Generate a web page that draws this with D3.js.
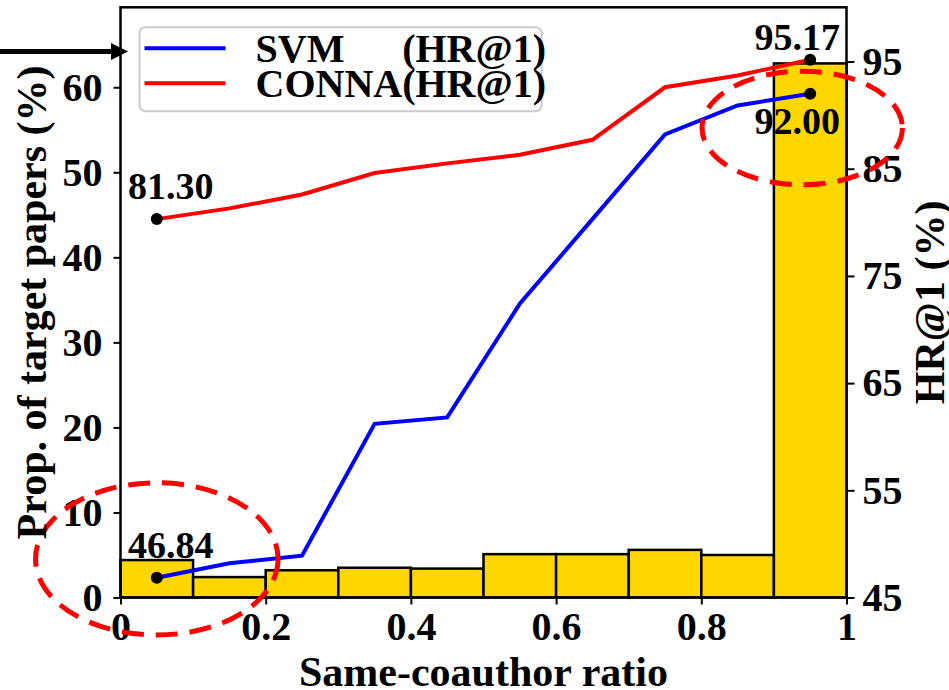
<!DOCTYPE html>
<html>
<head>
<meta charset="utf-8">
<script src="https://cdn.jsdelivr.net/npm/d3@7"></script>
<style>
  body { margin: 0; background: #fff; }
  svg { display: block; font-family: "Liberation Serif", "Times New Roman", Times, serif; font-weight: bold; }
</style>
</head>
<body>
<svg id="chart" width="949" height="690"></svg>
<script>
var FONT = '"Liberation Serif", "Times New Roman", Times, serif';

// histogram bins of the same-coauthor ratio
var binStarts = [0, 0.1, 0.2, 0.3, 0.4, 0.5, 0.6, 0.7, 0.8, 0.9];
var binWidth = 0.1;
var propPapers = [4.4, 2.4, 3.2, 3.5, 3.4, 5.1, 5.1, 5.6, 5.0, 62.8];

// HR@1 per bin (right axis)
var ratioMids = [0.05, 0.15, 0.25, 0.35, 0.45, 0.55, 0.65, 0.75, 0.85, 0.95];
var svmHr1 = [46.84, 48.2, 48.9, 61.2, 61.8, 72.4, 80.3, 88.2, 90.9, 92.00];
var connaHr1 = [80.3, 81.3, 82.6, 84.6, 85.5, 86.3, 87.7, 92.6, 93.7, 95.17];

var xTicks = [0, 0.2, 0.4, 0.6, 0.8, 1];
var leftTicks = [0, 10, 20, 30, 40, 50, 60];
var rightTicks = [45, 55, 65, 75, 85, 95];

var seriesNames = ['svm', 'conna'];
var legendNames = ['SVM', 'CONNA'];
var legendSuffix = '(HR@1)';
var seriesColors = ['#0000ff', '#ff0000'];

// highlighted endpoints: series, bin index, printed text
var pointLabels = [
  {series: 'svm', i: 0, text: '46.84'},
  {series: 'conna', i: 0, text: '81.30'},
  {series: 'svm', i: 9, text: '92.00'},
  {series: 'conna', i: 9, text: '95.17'}
];

var svg = d3.select('#chart');
var margin = {top: 7.3, left: 120.5};
var width = 726, height = 590.2;

var x = d3.scaleLinear().domain([0, 1]).range([0, width]);
var yLeft = d3.scaleLinear().domain([0, 69.4]).range([height, 0]);
var yRight = d3.scaleLinear().domain([45, 100.06]).range([height, 0]);

var seriesValues = {svm: svmHr1, conna: connaHr1};

var g = svg.append('g')
  .attr('transform', 'translate(' + margin.left + ',' + margin.top + ')');

// bars
g.selectAll('rect.bar')
  .data(propPapers)
  .enter()
  .append('rect')
  .attr('class', 'bar')
  .attr('x', function(d, i) { return x(binStarts[i]); })
  .attr('width', function(d, i) { return x(binStarts[i] + binWidth) - x(binStarts[i]); })
  .attr('y', function(d) { return yLeft(d); })
  .attr('height', function(d) { return yLeft(0) - yLeft(d); })
  .attr('fill', '#ffd700')
  .attr('stroke', '#000')
  .attr('stroke-width', 2.5);

// lines
var line = d3.line()
  .x(function(d, i) { return x(ratioMids[i]); })
  .y(function(d) { return yRight(d); });

seriesNames.forEach(function(name, k) {
  g.append('path')
    .datum(seriesValues[name])
    .attr('d', line)
    .attr('fill', 'none')
    .attr('stroke', seriesColors[k])
    .attr('stroke-width', 4);
});

// frame
g.append('rect')
  .attr('width', width)
  .attr('height', height)
  .attr('fill', 'none')
  .attr('stroke', '#000')
  .attr('stroke-width', 2.5);

// axes
function styleAxis(sel) {
  sel.select('.domain').remove();
  sel.selectAll('line').attr('stroke-width', 2);
  sel.selectAll('text')
    .style('font-family', FONT)
    .style('font-weight', 'bold')
    .style('font-size', '40px')
    .attr('fill', '#000');
}

g.append('g')
  .attr('transform', 'translate(0,' + height + ')')
  .call(d3.axisBottom(x).tickValues(xTicks).tickFormat(d3.format('~g')).tickSize(7).tickPadding(7))
  .call(styleAxis);

g.append('g')
  .call(d3.axisLeft(yLeft).tickValues(leftTicks).tickSize(7).tickPadding(11))
  .call(styleAxis);

g.append('g')
  .attr('transform', 'translate(' + width + ',0)')
  .call(d3.axisRight(yRight).tickValues(rightTicks).tickSize(8).tickPadding(8))
  .call(styleAxis);

// endpoint markers and labels
g.selectAll('circle.pt')
  .data(pointLabels)
  .enter()
  .append('circle')
  .attr('class', 'pt')
  .attr('cx', function(d) { return x(ratioMids[d.i]); })
  .attr('cy', function(d) { return yRight(seriesValues[d.series][d.i]); })
  .attr('r', 6)
  .attr('fill', '#000');

g.selectAll('text.pt-label')
  .data(pointLabels)
  .enter()
  .append('text')
  .attr('class', 'pt-label')
  .attr('x', function(d) { return x(ratioMids[d.i]) + (d.i === 0 ? 14 : -13); })
  .attr('y', function(d) {
    var cy = yRight(seriesValues[d.series][d.i]);
    if (d.i === 0) return cy - 20;
    return d.series === 'conna' ? cy - 10 : cy + 40;
  })
  .attr('text-anchor', 'middle')
  .attr('font-size', 38)
  .text(function(d) { return d.text; });

// dashed highlight ellipses
var ellipses = [
  {cx: 0.05, cy: 48.6, rx: 0.167, ry: 7.1},
  {cx: 0.939, cy: 88.8, rx: 0.138, ry: 5.3}
];
g.selectAll('ellipse.mark')
  .data(ellipses)
  .enter()
  .append('ellipse')
  .attr('class', 'mark')
  .attr('cx', function(d) { return x(d.cx); })
  .attr('cy', function(d) { return yRight(d.cy); })
  .attr('rx', function(d) { return x(d.rx) - x(0); })
  .attr('ry', function(d) { return yRight(45) - yRight(45 + d.ry); })
  .attr('fill', 'none')
  .attr('stroke', '#ff0000')
  .attr('stroke-width', 5)
  .attr('stroke-dasharray', '22,12');

// legend
var legend = g.append('g').attr('transform', 'translate(19,20)');
legend.append('rect')
  .attr('width', 402)
  .attr('height', 84)
  .attr('rx', 6)
  .attr('fill', '#fff')
  .attr('fill-opacity', 0.8)
  .attr('stroke', '#cccccc')
  .attr('stroke-width', 2);

var labelEnd = 0;
legendNames.slice().reverse().forEach(function(name, r) {
  var k = legendNames.length - 1 - r;
  var row = legend.append('g').attr('transform', 'translate(0,' + (21 + k * 35) + ')');
  row.append('line')
    .attr('x1', 5).attr('x2', 86)
    .attr('stroke', seriesColors[k])
    .attr('stroke-width', 4);
  var nameText = row.append('text')
    .attr('x', 116)
    .attr('y', 14)
    .attr('font-size', 40)
    .text(name);
  if (r === 0) {
    // last row runs name and suffix together; earlier rows align the suffix to it
    nameText.text(name + legendSuffix);
    labelEnd = 116 + nameText.node().getComputedTextLength();
  } else {
    row.append('text')
      .attr('x', labelEnd)
      .attr('y', 14)
      .attr('text-anchor', 'end')
      .attr('font-size', 40)
      .text(legendSuffix);
  }
});

// axis titles
svg.append('text')
  .attr('x', margin.left + width / 2)
  .attr('y', 686)
  .attr('text-anchor', 'middle')
  .attr('font-size', 42)
  .text('Same-coauthor ratio');

svg.append('text')
  .attr('transform', 'translate(46,' + (margin.top + height / 2) + ') rotate(-90)')
  .attr('text-anchor', 'middle')
  .attr('font-size', 42)
  .text('Prop. of target papers (%)');

svg.append('text')
  .attr('transform', 'translate(944,' + (margin.top + height / 2) + ') rotate(-90)')
  .attr('text-anchor', 'middle')
  .attr('font-size', 42)
  .text('HR@1 (%)');

// pointer arrow at the top left
var arrow = svg.append('g');
arrow.append('line')
  .attr('x1', 0).attr('x2', 114)
  .attr('y1', 51.5).attr('y2', 51.5)
  .attr('stroke', '#000')
  .attr('stroke-width', 5);
arrow.append('path')
  .attr('d', 'M111,43 L128,51.5 L111,60 Z')
  .attr('fill', '#000');
</script>
</body>
</html>
